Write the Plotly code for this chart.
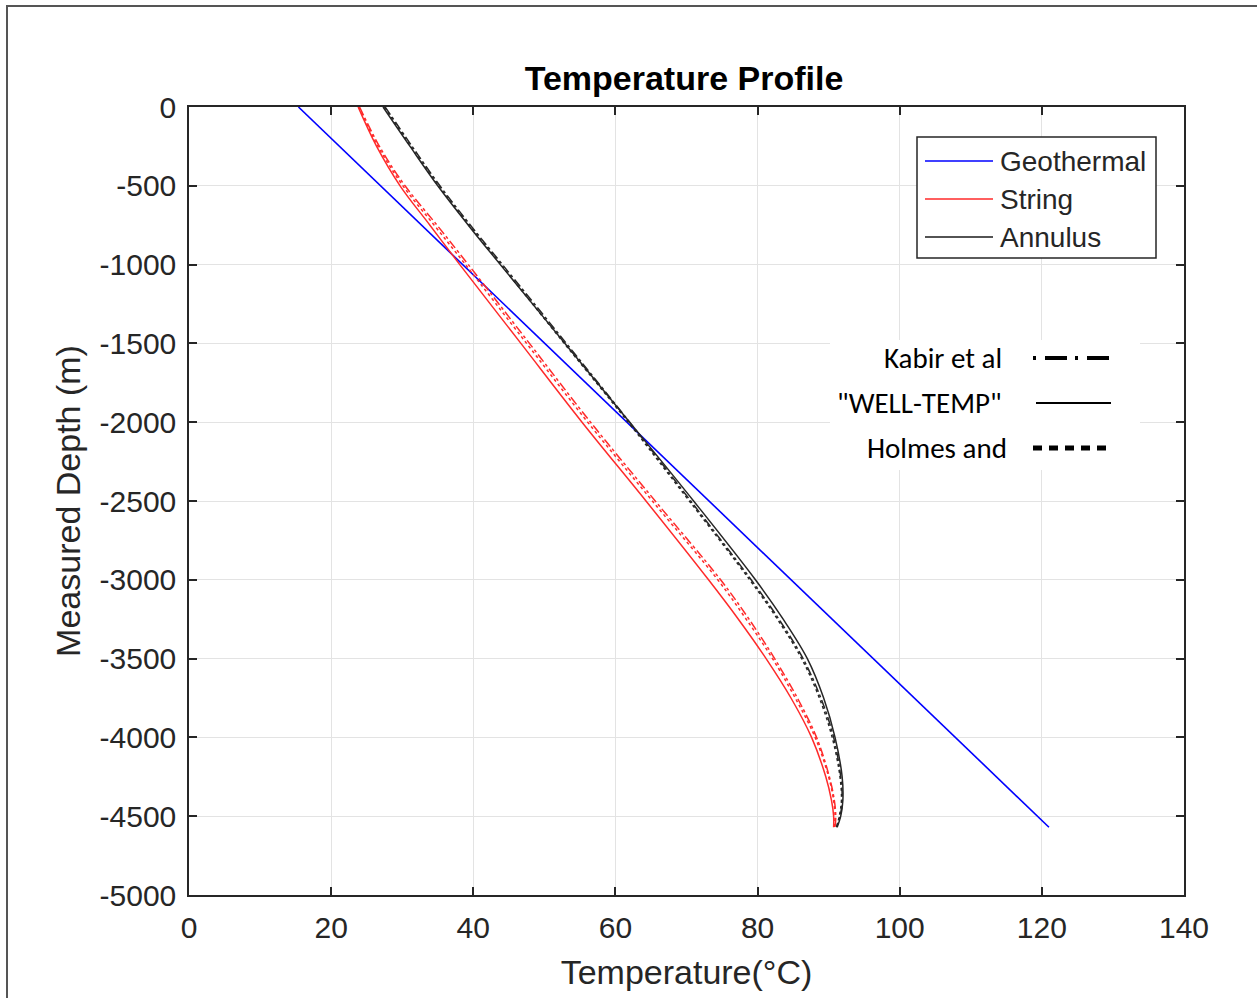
import plotly.graph_objects as go

# ---------------- data ----------------
depth = [0, -250, -500, -750, -1000, -1500, -2000, -2500, -3000, -3250, -3500,
         -3750, -4000, -4250, -4400, -4500, -4570]

geo_depth = [0, -4570]
geo_temp = [15.4, 121.0]

string_welltemp = [23.8, 26.4, 29.7, 33.9, 38.1, 46.7, 55.3, 64.3, 73.1, 77.3, 81.2,
                   84.7, 87.6, 89.6, 90.4, 90.7, 90.7]
string_kabir = [24.0, 26.8, 30.4, 34.9, 39.3, 47.9, 56.5, 65.6, 74.8, 78.8, 82.4,
                85.6, 88.3, 90.1, 90.8, 91.0, 90.9]
string_holmes = [23.9, 26.6, 30.1, 34.5, 38.9, 47.5, 56.1, 65.2, 74.4, 78.4, 82.1,
                 85.3, 88.1, 90.0, 90.7, 90.9, 90.8]

annulus_welltemp = [27.3, 31.1, 35.0, 39.3, 43.8, 52.9, 62.0, 71.0, 79.7, 83.6, 87.0,
                    89.3, 90.9, 91.9, 92.0, 91.7, 91.2]
annulus_kabir = [27.6, 31.4, 35.3, 39.6, 44.1, 53.1, 62.0, 70.6, 79.1, 83.0, 86.4,
                 88.9, 90.7, 91.7, 91.9, 91.6, 91.1]
annulus_holmes = [27.5, 31.2, 35.1, 39.4, 43.9, 52.8, 61.8, 70.4, 78.9, 82.8, 86.2,
                  88.7, 90.5, 91.6, 91.8, 91.5, 91.1]

legend_main = ["Geothermal", "String", "Annulus"]
legend_main_colors = ["#0000ff", "#ff2a2a", "#1a1a1a"]
legend_style = ["Kabir et al", "\"WELL-TEMP\"", "Holmes and"]

x_ticks = [0, 20, 40, 60, 80, 100, 120, 140]
y_ticks = [0, -500, -1000, -1500, -2000, -2500, -3000, -3500, -4000, -4500, -5000]

# ---------------- figure ----------------
W, H = 1257, 998
L, R, T, B = 189, 1184, 107, 895


def px(x):
    return (x - L) / (R - L)


def py(y):
    return (B - y) / (B - T)


fig = go.Figure()

RED = "#ff2a2a"
BLK = "#262626"

fig.add_trace(go.Scatter(x=geo_temp, y=geo_depth, mode="lines",
                         line=dict(color="#0000ff", width=1.6), name="Geothermal",
                         showlegend=False))

for vals, dash, nm in [(string_welltemp, "solid", "String WELL-TEMP"),
                       (string_holmes, "dot", "String Holmes"),
                       (string_kabir, "dashdot", "String Kabir")]:
    fig.add_trace(go.Scatter(x=vals, y=depth, mode="lines", name=nm,
                             line=dict(color=RED, width=1.5, dash=dash, shape="spline",
                                       smoothing=1.0),
                             showlegend=False))

for vals, dash, nm in [(annulus_welltemp, "solid", "Annulus WELL-TEMP"),
                       (annulus_holmes, "dot", "Annulus Holmes"),
                       (annulus_kabir, "dashdot", "Annulus Kabir")]:
    fig.add_trace(go.Scatter(x=vals, y=depth, mode="lines", name=nm,
                             line=dict(color=BLK, width=1.5, dash=dash, shape="spline",
                                       smoothing=1.0),
                             showlegend=False))

shapes = []
annotations = []

# outer frame
shapes.append(dict(type="rect", xref="paper", yref="paper",
                   x0=px(7), x1=px(1262), y0=py(1003), y1=py(6),
                   line=dict(color="#555555", width=2), fillcolor="rgba(0,0,0,0)",
                   layer="above"))

# main legend box
shapes.append(dict(type="rect", xref="paper", yref="paper",
                   x0=px(917), x1=px(1156), y0=py(258), y1=py(137),
                   line=dict(color="#262626", width=1.5), fillcolor="white",
                   layer="above"))
for i, (lbl, col) in enumerate(zip(legend_main, legend_main_colors)):
    yy = 161 + 38 * i
    shapes.append(dict(type="line", xref="paper", yref="paper",
                       x0=px(925), x1=px(993), y0=py(yy), y1=py(yy),
                       line=dict(color=col, width=1.6), layer="above"))
    annotations.append(dict(xref="paper", yref="paper", x=px(998), y=py(yy),
                            text=lbl, showarrow=False, xanchor="left", yanchor="middle",
                            font=dict(family="Liberation Sans, Arial", size=28,
                                      color="#262626")))

# line-style legend (white patch)
shapes.append(dict(type="rect", xref="paper", yref="paper",
                   x0=px(830), x1=px(1140), y0=py(470), y1=py(340),
                   line=dict(width=0), fillcolor="white", layer="above"))
style_dash = ["3px,9px,22px,8px", "solid", "9px,7px"]
style_width = [4, 2, 5]
style_x = [(1033, 1117), (1036, 1111), (1033, 1112)]
style_right = [1004, 1004, 1009]
for i, lbl in enumerate(legend_style):
    yy = 358 + 45 * i
    shapes.append(dict(type="line", xref="paper", yref="paper",
                       x0=px(style_x[i][0]), x1=px(style_x[i][1]), y0=py(yy), y1=py(yy),
                       line=dict(color="black", width=style_width[i], dash=style_dash[i]),
                       layer="above"))
    annotations.append(dict(xref="paper", yref="paper", x=px(style_right[i]),
                            y=py(yy), text=lbl, showarrow=False, xanchor="right",
                            yanchor="middle",
                            font=dict(family="Carlito, Lato, Liberation Sans", size=29,
                                      color="black")))

axis_common = dict(
    showline=True, linecolor="#262626", linewidth=1.5, mirror="ticks",
    ticks="inside", ticklen=8, tickwidth=1.5, tickcolor="#262626",
    showgrid=True, gridcolor="#e3e3e3", gridwidth=1.2, zeroline=False,
    tickfont=dict(family="Liberation Sans, Arial", size=30, color="#262626"),
)

fig.update_layout(
    width=W, height=H,
    margin=dict(l=L, r=W - R, t=T, b=H - B, pad=0),
    paper_bgcolor="white", plot_bgcolor="white",
    title=dict(text="<b>Temperature Profile</b>", x=px(684), xref="paper",
               xanchor="center", y=1 - 78 / H, yref="container", yanchor="middle",
               font=dict(family="Liberation Sans, Arial", size=34, color="black")),
    xaxis=dict(range=[0, 140], tickvals=x_ticks, ticktext=[str(v) for v in x_ticks],
               ticklabelstandoff=5,
               title=dict(text="Temperature(°C)", standoff=17,
                          font=dict(family="Liberation Sans, Arial", size=34,
                                    color="#262626")),
               **axis_common),
    yaxis=dict(range=[-5000, 0], tickvals=y_ticks, ticktext=[str(v) for v in y_ticks],
               ticklabelstandoff=5,
               title=dict(text="Measured Depth (m)", standoff=9,
                          font=dict(family="Liberation Sans, Arial", size=34,
                                    color="#262626")),
               **axis_common),
    shapes=shapes, annotations=annotations, showlegend=False,
)

fig.write_html("out.html", config={"displayModeBar": False},
               post_script="document.body.style.margin='0px';document.body.style.overflow='hidden';")
